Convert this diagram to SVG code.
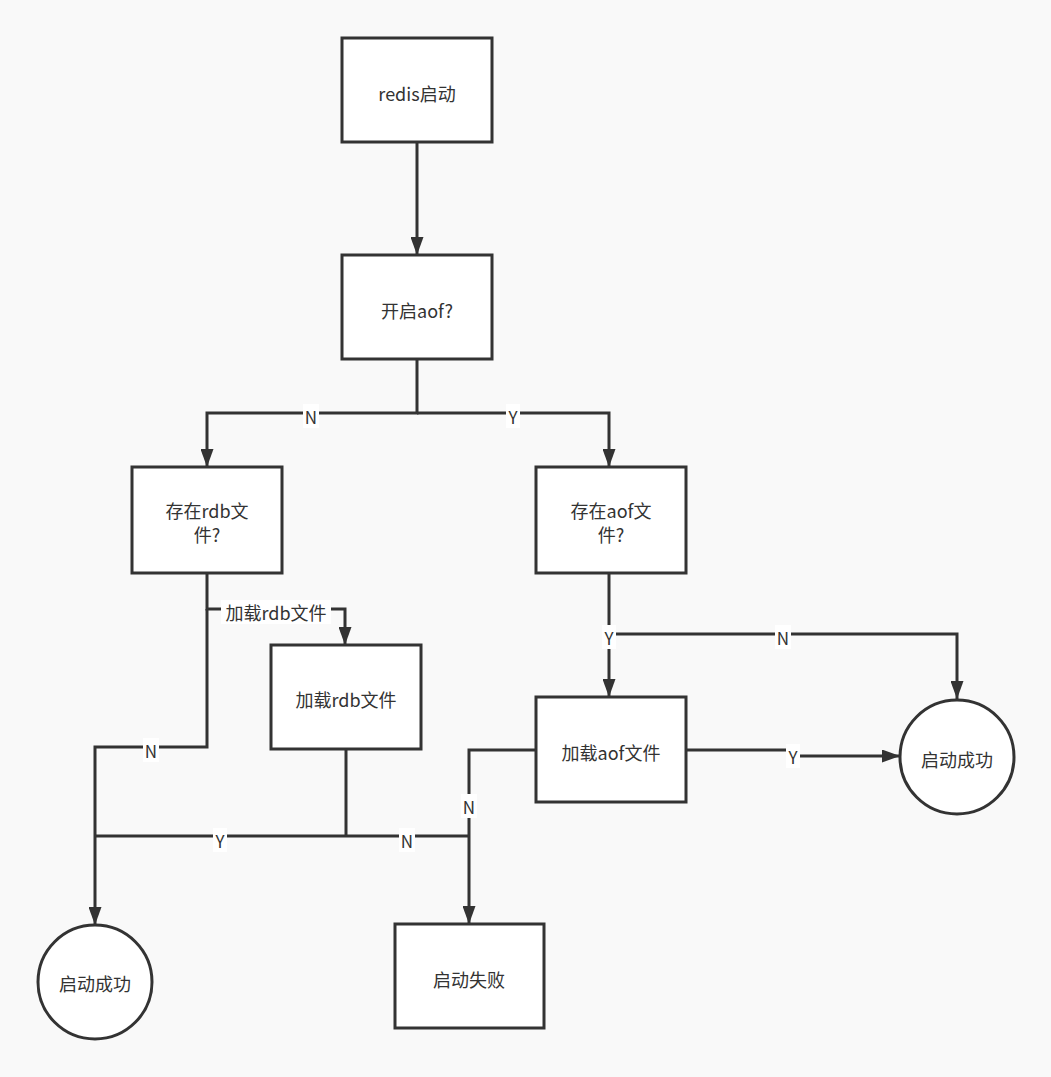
<svg xmlns="http://www.w3.org/2000/svg" width="1051" height="1077" viewBox="0 0 1051 1077">
<style>
.n{fill:#fff;stroke:#333;stroke-width:3}
.t{font-family:"Noto Sans CJK SC","Liberation Sans",sans-serif;font-size:18px;fill:#333;text-anchor:middle;dominant-baseline:central}
.e{fill:none;stroke:#333;stroke-width:3}
.lb{fill:#fff}
.l{font-family:"Noto Sans CJK SC","Liberation Sans",sans-serif;font-size:17px;fill:#333;text-anchor:middle;dominant-baseline:central}
</style>
<defs>
<marker id="a" viewBox="0 0 18 13" refX="18" refY="6.5" markerWidth="18" markerHeight="13" markerUnits="userSpaceOnUse" orient="auto">
<path d="M0,0 L18,6.5 L0,13 Z" fill="#333"/>
</marker>
</defs>
<rect width="1051" height="1077" fill="#f9f9f9"/>
<g id="connectors">
<path class="e" d="M417,142 V255" marker-end="url(#a)"/>
<path class="e" d="M417,359 V413 H207 V467" marker-end="url(#a)"/>
<path class="e" d="M417,413 H609 V467" marker-end="url(#a)"/>
<path class="e" d="M207,573 V609 H345 V645" marker-end="url(#a)"/>
<path class="e" d="M207,609 V747 H95 V925" marker-end="url(#a)"/>
<path class="e" d="M346,749 V836"/>
<path class="e" d="M95,836 H469"/>
<path class="e" d="M609,573 V697" marker-end="url(#a)"/>
<path class="e" d="M609,634 H957 V699" marker-end="url(#a)"/>
<path class="e" d="M536,750 H469 V924" marker-end="url(#a)"/>
<path class="e" d="M686,750 H793 V756 H900" marker-end="url(#a)"/>
<rect class="lb" x="303" y="404" width="16" height="24"/>
<text class="l" x="311" y="416">N</text>
<rect class="lb" x="506" y="404" width="14" height="24"/>
<text class="l" x="513" y="416">Y</text>
<rect class="lb" x="221" y="600" width="110" height="24"/>
<text class="l" x="276" y="612" style="font-size:18px">加载rdb文件</text>
<rect class="lb" x="143" y="738" width="16" height="24"/>
<text class="l" x="151" y="750">N</text>
<rect class="lb" x="213" y="828" width="14" height="24"/>
<text class="l" x="220" y="840">Y</text>
<rect class="lb" x="399" y="828" width="16" height="24"/>
<text class="l" x="407" y="840">N</text>
<rect class="lb" x="602" y="625" width="14" height="24"/>
<text class="l" x="609" y="637">Y</text>
<rect class="lb" x="775" y="625" width="16" height="24"/>
<text class="l" x="783" y="637">N</text>
<rect class="lb" x="461" y="794" width="16" height="24"/>
<text class="l" x="469" y="806">N</text>
<rect class="lb" x="786" y="744" width="14" height="24"/>
<text class="l" x="793" y="756">Y</text>
</g>
<g id="n1"><rect class="n" x="342" y="38" width="150" height="104"/><text class="t" x="417" y="93">redis启动</text></g>
<g id="n2"><rect class="n" x="342" y="255" width="150" height="104"/><text class="t" x="417" y="310">开启aof?</text></g>
<g id="n3"><rect class="n" x="132" y="467" width="150" height="106"/><text class="t" x="207" y="510">存在rdb文</text><text class="t" x="207" y="534">件?</text></g>
<g id="n4"><rect class="n" x="536" y="467" width="150" height="106"/><text class="t" x="611" y="510">存在aof文</text><text class="t" x="611" y="534">件?</text></g>
<g id="n5"><rect class="n" x="271" y="645" width="150" height="104"/><text class="t" x="346" y="699">加载rdb文件</text></g>
<g id="n6"><rect class="n" x="536" y="697" width="150" height="105"/><text class="t" x="611" y="752">加载aof文件</text></g>
<g id="n7"><circle class="n" cx="957" cy="757" r="57"/><text class="t" x="957" y="759">启动成功</text></g>
<g id="n8"><circle class="n" cx="95" cy="982" r="57"/><text class="t" x="95" y="983">启动成功</text></g>
<g id="n9"><rect class="n" x="395" y="924" width="149" height="104"/><text class="t" x="469" y="979">启动失败</text></g>
</svg>
